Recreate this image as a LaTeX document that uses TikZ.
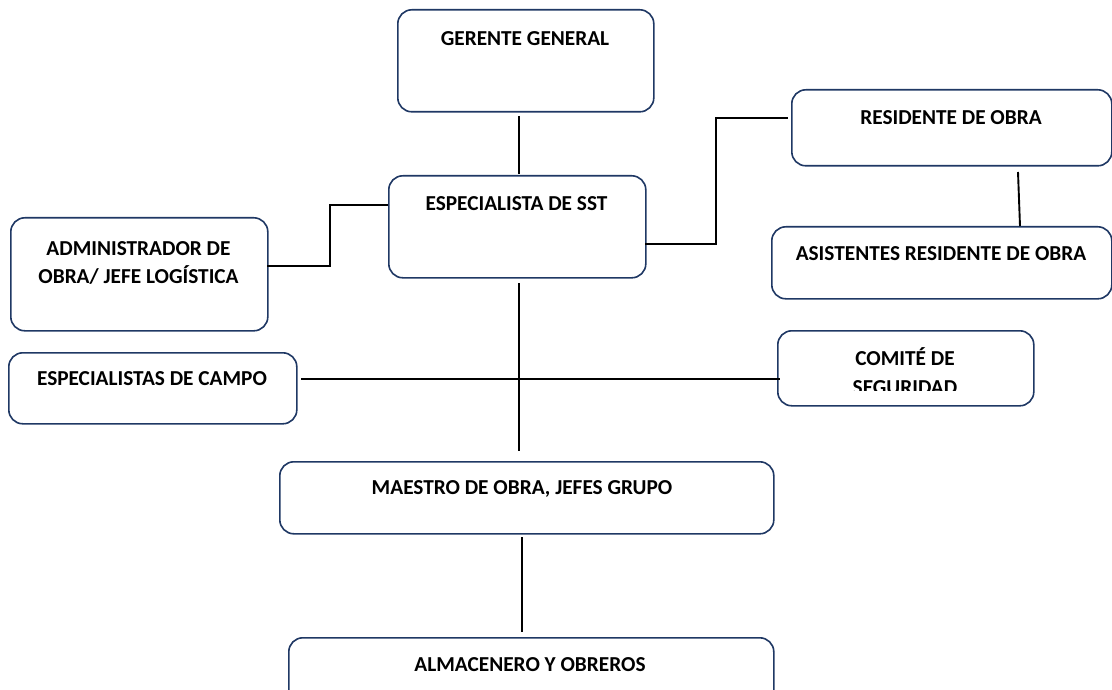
\documentclass[tikz,border=0pt]{standalone}
\usepackage{fontspec}
\setmainfont{Carlito}
\definecolor{navy}{HTML}{1F3864}
\begin{document}
\begin{tikzpicture}[x=1pt,y=-1pt,
  box/.style={draw=navy,line width=1.6pt,rounded corners=14pt,fill=white,anchor=north west,inner sep=0pt},
  lbl/.style={font=\fontsize{21.3}{28.5}\selectfont\bfseries,align=center,anchor=base,inner sep=0pt},
  conn/.style={draw=black,line width=1.9pt}]
\clip (0,0) rectangle (1112,690);
\fill[white] (0,0) rectangle (1112,690);
% boxes
\node[box,minimum width=256pt,minimum height=102pt] (ger) at (397,9) {};
\node[box,minimum width=257pt,minimum height=102pt] (sst) at (388,175) {};
\node[box,minimum width=257pt,minimum height=113pt] (adm) at (10,217) {};
\node[box,minimum width=320pt,minimum height=76pt] (res) at (791,89) {};
\node[box,minimum width=340pt,minimum height=72pt] (asi) at (771,226) {};
\node[box,minimum width=288pt,minimum height=71pt] (cam) at (8,352) {};
\node[box,minimum width=256pt,minimum height=75pt] (com) at (777,330) {};
\node[box,minimum width=494pt,minimum height=72pt] (mae) at (279,461) {};
\node[box,minimum width=485pt,minimum height=80pt] (alm) at (288,637) {};
% labels
\node[lbl] (tger) at (525,45.3) {GERENTE GENERAL};
\node[lbl] (tsst) at (516.5,210.8) {ESPECIALISTA DE SST};
\node[lbl,font=\fontsize{21.3}{28}\selectfont\bfseries] (tadm) at (138.5,283.3) {ADMINISTRADOR DE\\OBRA/ JEFE LOGÍSTICA};
\node[lbl] (tres) at (951,124.8) {RESIDENTE DE OBRA};
\node[lbl] (tasi) at (941,260.8) {ASISTENTES RESIDENTE DE OBRA};
\node[lbl] (tcam) at (152,385.3) {ESPECIALISTAS DE CAMPO};
\begin{scope}
\clip (777,330) rectangle (1033,390.5);
\node[lbl,font=\fontsize{21.3}{29}\selectfont\bfseries] (tcom) at (905,394.3) {COMITÉ DE\\SEGURIDAD};
\end{scope}
\node[lbl] (tmae) at (522,494.8) {MAESTRO DE OBRA, JEFES GRUPO};
\node[lbl] (talm) at (530,671.8) {ALMACENERO Y OBREROS};
% connector end points
\coordinate (gA) at (519,116);
\coordinate (gB) at (519,174);
\coordinate (aA) at (388,205);
\coordinate (aM) at (330,205);
\coordinate (aB) at (267,266);
\coordinate (rA) at (645,244);
\coordinate (rM) at (716,244);
\coordinate (rB) at (788,118);
\coordinate (raA) at (1018,172);
\coordinate (raB) at (1020,226);
\coordinate (tA) at (519,283);
\coordinate (tB) at (519,451);
\coordinate (hA) at (301,379);
\coordinate (hB) at (780,379);
\coordinate (mA) at (522,537);
\coordinate (mB) at (522,632);
% connectors
\draw[conn] (gA) -- (gB);
\draw[conn] (aA) -- (aM) |- (aB);
\draw[conn] (rA) -- (rM) |- (rB);
\draw[conn] (raA) -- (raB);
\draw[conn] (tA) -- (tB);
\draw[conn] (hA) -- (hB);
\draw[conn] (mA) -- (mB);
\end{tikzpicture}
\end{document}
